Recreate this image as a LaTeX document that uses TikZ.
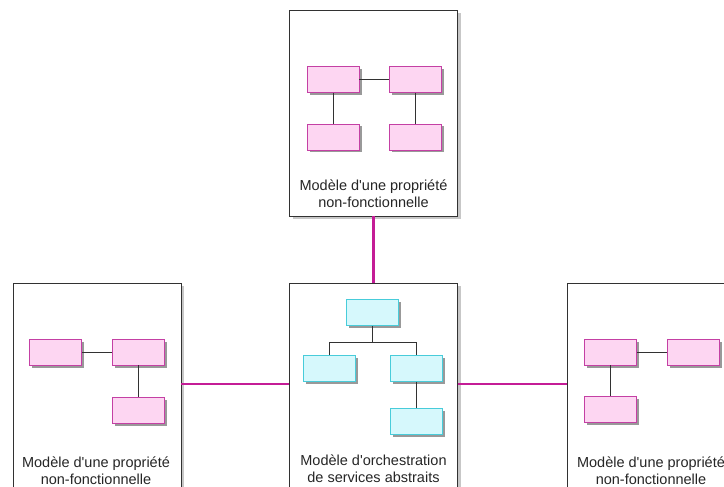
\documentclass[tikz,border=0pt]{standalone}
\usepackage{fontspec}
\setmainfont{Liberation Sans}[Ligatures=TeXOff]
\usetikzlibrary{shadows,calc}
\definecolor{pinkfill}{RGB}{253,214,242}
\definecolor{pinkline}{RGB}{196,64,164}
\definecolor{cyanfill}{RGB}{214,248,252}
\definecolor{cyanline}{RGB}{72,204,218}
\definecolor{magline}{RGB}{196,28,150}
\definecolor{frameline}{RGB}{50,50,50}
\tikzset{
  outerbox/.style={draw=frameline, line width=0.9pt, fill=white, inner sep=0pt,
    minimum width=168pt, drop shadow={shadow xshift=3pt, shadow yshift=-3pt, fill=black!22, opacity=1}},
  innerbox/.style={line width=0.9pt, inner sep=0pt, minimum width=52pt, minimum height=26pt,
    drop shadow={shadow xshift=2.5pt, shadow yshift=-2.5pt, fill=black!40, opacity=1}},
  pinkbox/.style={innerbox, draw=pinkline, fill=pinkfill},
  cyanbox/.style={innerbox, draw=cyanline, fill=cyanfill},
  link/.style={draw=frameline, line width=0.8pt},
  maglink/.style={draw=magline, line width=2.6pt},
  caption/.style={align=center, font=\fontsize{14.5}{17}\selectfont, text=black!85, inner sep=0pt}
}
\begin{document}
\begin{tikzpicture}[x=1pt,y=-1pt]
\useasboundingbox (0,0) rectangle (724,487);
\clip (0,0) rectangle (724,487);
% outer frames
\node[outerbox, minimum height=206pt] (top) at (373.5,113) {};
\node[outerbox, minimum height=240pt] (left) at (97,403) {};
\node[outerbox, minimum height=240pt] (mid) at (373.5,403) {};
\node[outerbox, minimum height=240pt] (right) at (651.5,403) {};
% magenta connectors
\coordinate (hy) at (0,384);
\draw[maglink] (top.south) -- (mid.north);
\draw[maglink] (left.east |- hy) -- (mid.west |- hy);
\draw[maglink] (mid.east |- hy) -- (right.west |- hy);
% top model
\node[pinkbox] (a1) at (333,79.5) {};
\node[pinkbox] (a2) at (415.5,79.5) {};
\node[pinkbox] (a3) at (333,137) {};
\node[pinkbox] (a4) at (415.5,137) {};
\draw[link] (a1.east) -- (a2.west);
\draw[link] (a1.south) -- (a3.north);
\draw[link] (a2.south) -- (a4.north);
\node[caption] (ttop) at (373.5,193.5) {Modèle d'une propriété\\non-fonctionnelle};
% left model
\node[pinkbox] (b1) at (55.5,352) {};
\node[pinkbox] (b2) at (138.5,352) {};
\node[pinkbox] (b3) at (138.5,410) {};
\draw[link] (b1.east) -- (b2.west);
\draw[link] (b2.south) -- (b3.north);
\node[caption] (tleft) at (96,471) {Modèle d'une propriété\\non-fonctionnelle};
% centre model
\node[cyanbox] (c1) at (372.5,312.5) {};
\node[cyanbox] (c2) at (329,368.5) {};
\node[cyanbox] (c3) at (416.5,368.5) {};
\node[cyanbox] (c4) at (416.5,421) {};
\coordinate (cj) at ($(c1.south)+(0,16)$);
\draw[link] (c1.south) -- (cj) -| (c2.north);
\draw[link] (cj) -| (c3.north);
\draw[link] (c3.south) -- (c4.north);
\node[caption] (tmid) at (373.5,468.5) {Modèle d'orchestration\\de services abstraits};
% right model
\node[pinkbox] (d1) at (610.5,352) {};
\node[pinkbox] (d2) at (693,352) {};
\node[pinkbox] (d3) at (610.5,409) {};
\draw[link] (d1.east) -- (d2.west);
\draw[link] (d1.south) -- (d3.north);
\node[caption] (tright) at (651,471) {Modèle d'une propriété\\non-fonctionnelle};
\end{tikzpicture}
\end{document}
